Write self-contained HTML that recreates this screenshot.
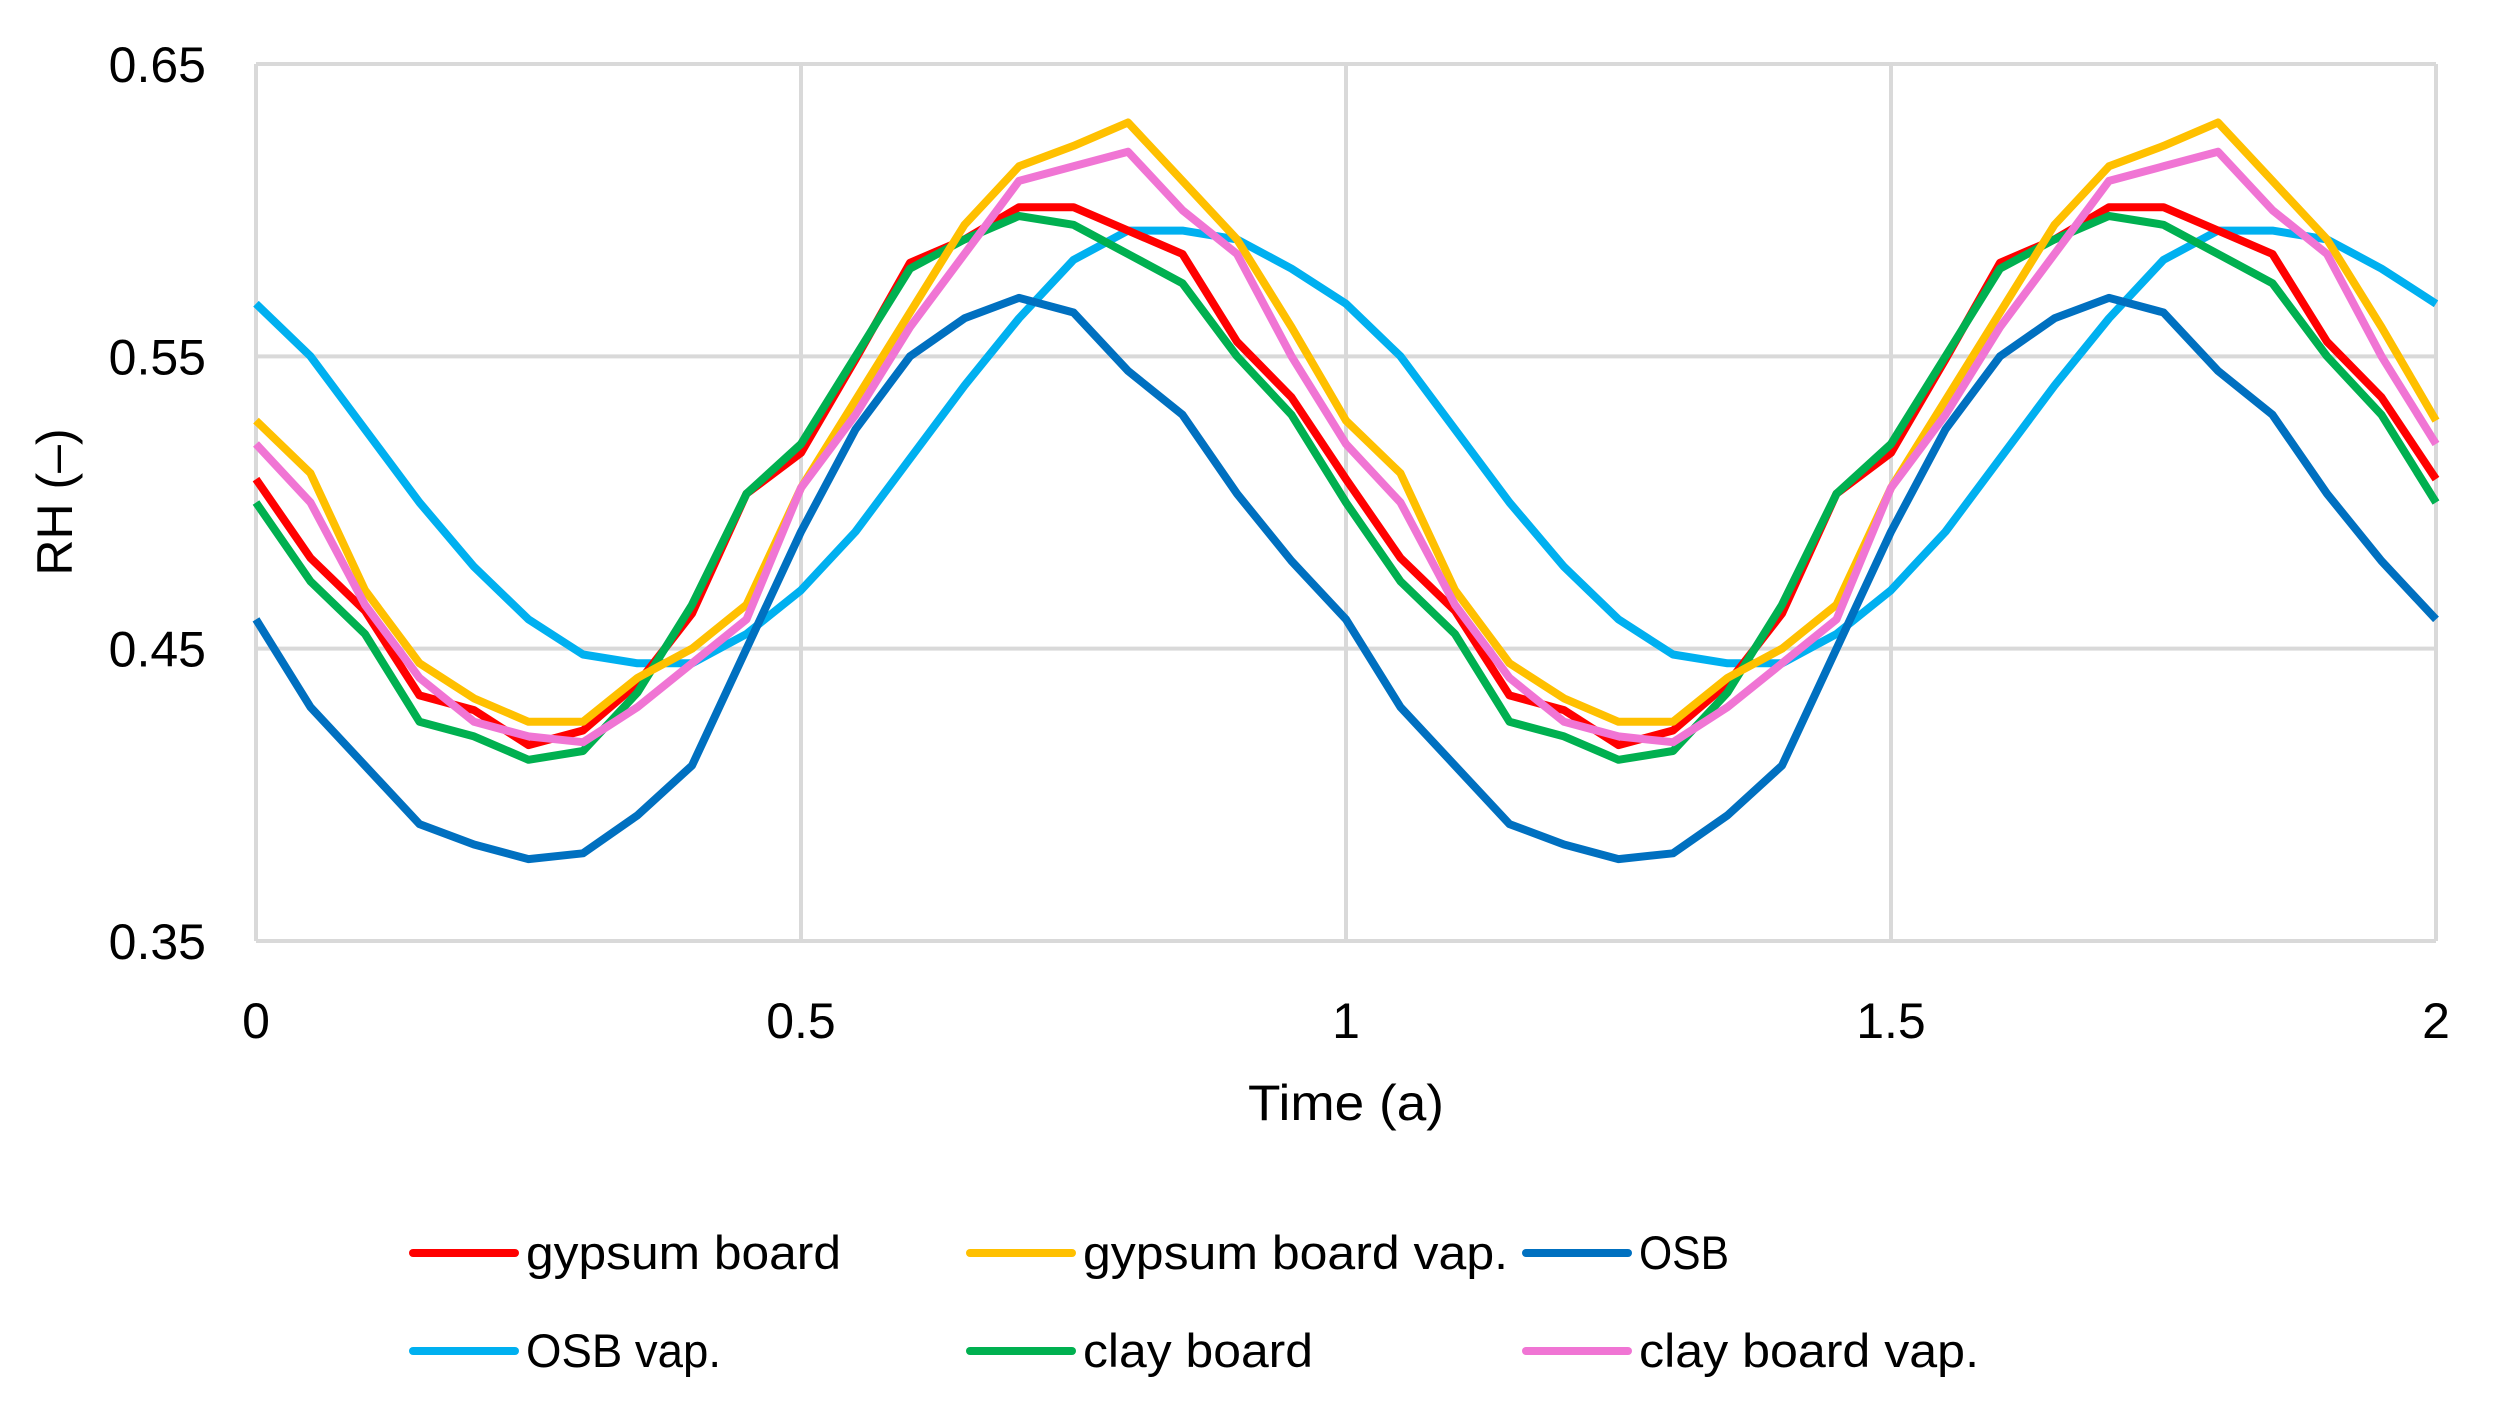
<!DOCTYPE html>
<html><head><meta charset="utf-8"><style>
html,body{margin:0;padding:0;background:#fff;}
svg{display:block;font-family:"Liberation Sans",sans-serif;}
</style></head><body>
<svg id="chart" width="2495" height="1404" viewBox="0 0 2495 1404">
<g id="grid"></g>
<g id="yticks"></g>
<g id="xticks"></g>
<g id="series"></g>
<text x="1346" y="1120" font-size="50" text-anchor="middle" textLength="196" lengthAdjust="spacingAndGlyphs">Time (a)</text>
<text transform="translate(72,502) rotate(-90)" font-size="50" text-anchor="middle">RH (–)</text>
<g id="legend"></g>
</svg>
<script>
const times = [0,0.05,0.1,0.15,0.2,0.25,0.3,0.35,0.4,0.45,0.5,0.55,0.6,0.65,0.7,0.75,0.8,0.85,0.9,0.95,1,1.05,1.1,1.15,1.2,1.25,1.3,1.35,1.4,1.45,1.5,1.55,1.6,1.65,1.7,1.75,1.8,1.85,1.9,1.95,2];
const gypsum = [0.508,0.481,0.463,0.434,0.429,0.417,0.422,0.438,0.462,0.503,0.517,0.549,0.582,0.590,0.601,0.601,0.593,0.585,0.555,0.536,0.508,0.481,0.463,0.434,0.429,0.417,0.422,0.438,0.462,0.503,0.517,0.549,0.582,0.590,0.601,0.601,0.593,0.585,0.555,0.536,0.508];
const gypsumVap = [0.528,0.510,0.470,0.445,0.433,0.425,0.425,0.440,0.450,0.465,0.505,0.535,0.565,0.595,0.615,0.622,0.630,0.610,0.590,0.560,0.528,0.510,0.470,0.445,0.433,0.425,0.425,0.440,0.450,0.465,0.505,0.535,0.565,0.595,0.615,0.622,0.630,0.610,0.590,0.560,0.528];
const osb = [0.460,0.430,0.410,0.390,0.383,0.378,0.380,0.393,0.410,0.450,0.490,0.525,0.550,0.563,0.570,0.565,0.545,0.530,0.503,0.480,0.460,0.430,0.410,0.390,0.383,0.378,0.380,0.393,0.410,0.450,0.490,0.525,0.550,0.563,0.570,0.565,0.545,0.530,0.503,0.480,0.460];
const osbVap = [0.568,0.550,0.525,0.500,0.478,0.460,0.448,0.445,0.445,0.455,0.470,0.490,0.515,0.540,0.563,0.583,0.593,0.593,0.590,0.580,0.568,0.550,0.525,0.500,0.478,0.460,0.448,0.445,0.445,0.455,0.470,0.490,0.515,0.540,0.563,0.583,0.593,0.593,0.590,0.580,0.568];
const clay = [0.500,0.473,0.455,0.425,0.420,0.412,0.415,0.435,0.465,0.503,0.520,0.550,0.580,0.590,0.598,0.595,0.585,0.575,0.550,0.530,0.500,0.473,0.455,0.425,0.420,0.412,0.415,0.435,0.465,0.503,0.520,0.550,0.580,0.590,0.598,0.595,0.585,0.575,0.550,0.530,0.500];
const clayVap = [0.520,0.500,0.465,0.440,0.425,0.420,0.418,0.430,0.445,0.460,0.505,0.530,0.560,0.585,0.610,0.615,0.620,0.600,0.585,0.550,0.520,0.500,0.465,0.440,0.425,0.420,0.418,0.430,0.445,0.460,0.505,0.530,0.560,0.585,0.610,0.615,0.620,0.600,0.585,0.550,0.520];
const yTicks = [0.35,0.45,0.55,0.65];
const yTickLabels = ["0.35","0.45","0.55","0.65"];
const xTicks = [0,0.5,1,1.5,2];
const xTickLabels = ["0","0.5","1","1.5","2"];
const seriesNames = ["gypsum board","gypsum board vap.","OSB","OSB vap.","clay board","clay board vap."];

const NS="http://www.w3.org/2000/svg";
const L=256,R=2436,T=64,B=941;
const xs=v=>L+(v-0)/(2-0)*(R-L);
const ys=v=>B-(v-0.35)/(0.65-0.35)*(B-T);
function mk(tag,attrs,parent){const e=document.createElementNS(NS,tag);for(const k in attrs)e.setAttribute(k,attrs[k]);parent.appendChild(e);return e;}

const grid=document.getElementById('grid');
yTicks.forEach((v,i)=>{
  const l=mk('line',{x1:L,x2:R,y1:ys(v),y2:ys(v),stroke:'#d9d9d9','stroke-width':4},grid);
  
  
  const t=mk('text',{x:206,y:ys(v)+18,'font-size':50,'text-anchor':'end'},document.getElementById('yticks'));
  t.textContent=yTickLabels[i];
  
  
});
xTicks.forEach((v,i)=>{
  const l=mk('line',{x1:xs(v),x2:xs(v),y1:T,y2:B,stroke:'#d9d9d9','stroke-width':4},grid);
  
  
  const t=mk('text',{x:xs(v),y:1038,'font-size':50,'text-anchor':'middle'},document.getElementById('xticks'));
  t.textContent=xTickLabels[i];
  
  
});

const all=[gypsum,gypsumVap,osb,osbVap,clay,clayVap];
const colors=['#ff0000','#ffc000','#0070c0','#00b0f0','#00b050','#f075d4'];
const drawOrder=[3,2,0,4,1,5];
const sg=document.getElementById('series');
drawOrder.forEach(si=>{
  const d=times.map((t,i)=>(i?'L':'M')+xs(t).toFixed(1)+' '+ys(all[si][i]).toFixed(1)).join(' ');
  const p=mk('path',{d:d,fill:'none',stroke:colors[si],'stroke-width':8,'stroke-linejoin':'round'},sg);
  
  
});

const lg=document.getElementById('legend');
const colX=[413,970,1526], rowY=[1253,1351];
const textW=[315,425,90,195,230,340];
seriesNames.forEach((n,i)=>{
  const cx=colX[i%3], cy=rowY[Math.floor(i/3)];
  const g=mk('g',{},lg);
  
  
  mk('line',{x1:cx,x2:cx+102,y1:cy,y2:cy,stroke:colors[i],'stroke-width':8,'stroke-linecap':'round'},g);
  const t=mk('text',{x:cx+113,y:cy+16,'font-size':47,textLength:textW[i],lengthAdjust:'spacingAndGlyphs'},g);
  t.textContent=n;
});
</script>
</body></html>
